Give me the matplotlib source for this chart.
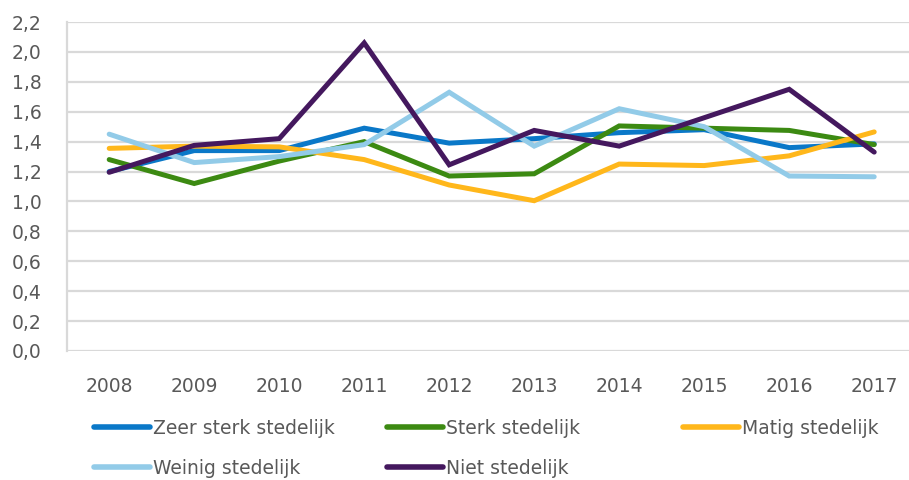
import numpy as np
import matplotlib.pyplot as plt
from matplotlib.lines import Line2D
from matplotlib.ticker import FuncFormatter

# Jaarlijkse waarden per stedelijkheidsklasse
years = ['2008', '2009', '2010', '2011', '2012', '2013', '2014', '2015', '2016', '2017']
zeer_sterk = [1.20, 1.34, 1.34, 1.49, 1.39, 1.42, 1.46, 1.48, 1.36, 1.385]
sterk = [1.28, 1.12, 1.27, 1.40, 1.17, 1.185, 1.505, 1.49, 1.475, 1.38]
matig = [1.355, 1.37, 1.365, 1.28, 1.11, 1.005, 1.25, 1.24, 1.305, 1.465]
weinig = [1.45, 1.26, 1.30, 1.38, 1.73, 1.37, 1.62, 1.50, 1.17, 1.165]
niet = [1.195, 1.375, 1.42, 2.06, 1.245, 1.475, 1.37, 1.56, 1.75, 1.33]

series = [
    ('Zeer sterk stedelijk', zeer_sterk, '#0A78C8'),
    ('Sterk stedelijk', sterk, '#3C8A12'),
    ('Matig stedelijk', matig, '#FFB71B'),
    ('Weinig stedelijk', weinig, '#92CBE8'),
    ('Niet stedelijk', niet, '#44185E'),
]

text_color = '#595959'
grid_color = '#D9D9D9'
fs = 13.5
plt.rcParams['font.family'] = ['DejaVu Sans']

fig = plt.figure(figsize=(9.09, 4.8), dpi=100)
ax = fig.add_axes([66.7 / 909, 1 - 351 / 480, 850 / 909, (351 - 22) / 480])

x = np.arange(len(years))
for name, vals, col in series:
    ax.plot(x, vals, color=col, lw=3.6, solid_capstyle='round',
            solid_joinstyle='miter', label=name)

ax.set_xlim(-0.5, len(years) - 0.5)
ax.set_ylim(0, 2.2)
ax.set_yticks(np.arange(0, 2.21, 0.2))
ax.yaxis.set_major_formatter(FuncFormatter(lambda v, p: f'{v:.1f}'.replace('.', ',')))
ax.set_xticks(x)
ax.set_xticklabels(years)
ax.grid(axis='y', color=grid_color, lw=1.6)
ax.set_axisbelow(True)
for side in ['top', 'right', 'bottom']:
    ax.spines[side].set_visible(False)
ax.spines['left'].set_color(grid_color)
ax.spines['left'].set_linewidth(1.6)
ax.tick_params(axis='both', length=0, labelsize=fs, colors=text_color)
ax.tick_params(axis='y', pad=18)
ax.tick_params(axis='x', pad=19)

# Legenda: vaste kolomposities
legend_pos = [(94, 428), (387, 428), (683, 428), (94, 468), (387, 468)]
for (name, vals, col), (px, py) in zip(series, legend_pos):
    h = Line2D([], [], color=col, lw=4, solid_capstyle='round')
    fig.legend(handles=[h], labels=[name], loc='center left',
               bbox_to_anchor=(px / 909, 1 - py / 480), frameon=False,
               fontsize=fs, labelcolor=text_color, handlelength=3.0,
               handletextpad=0.15, borderpad=0, borderaxespad=0)

fig.savefig('out.png', dpi=100)
